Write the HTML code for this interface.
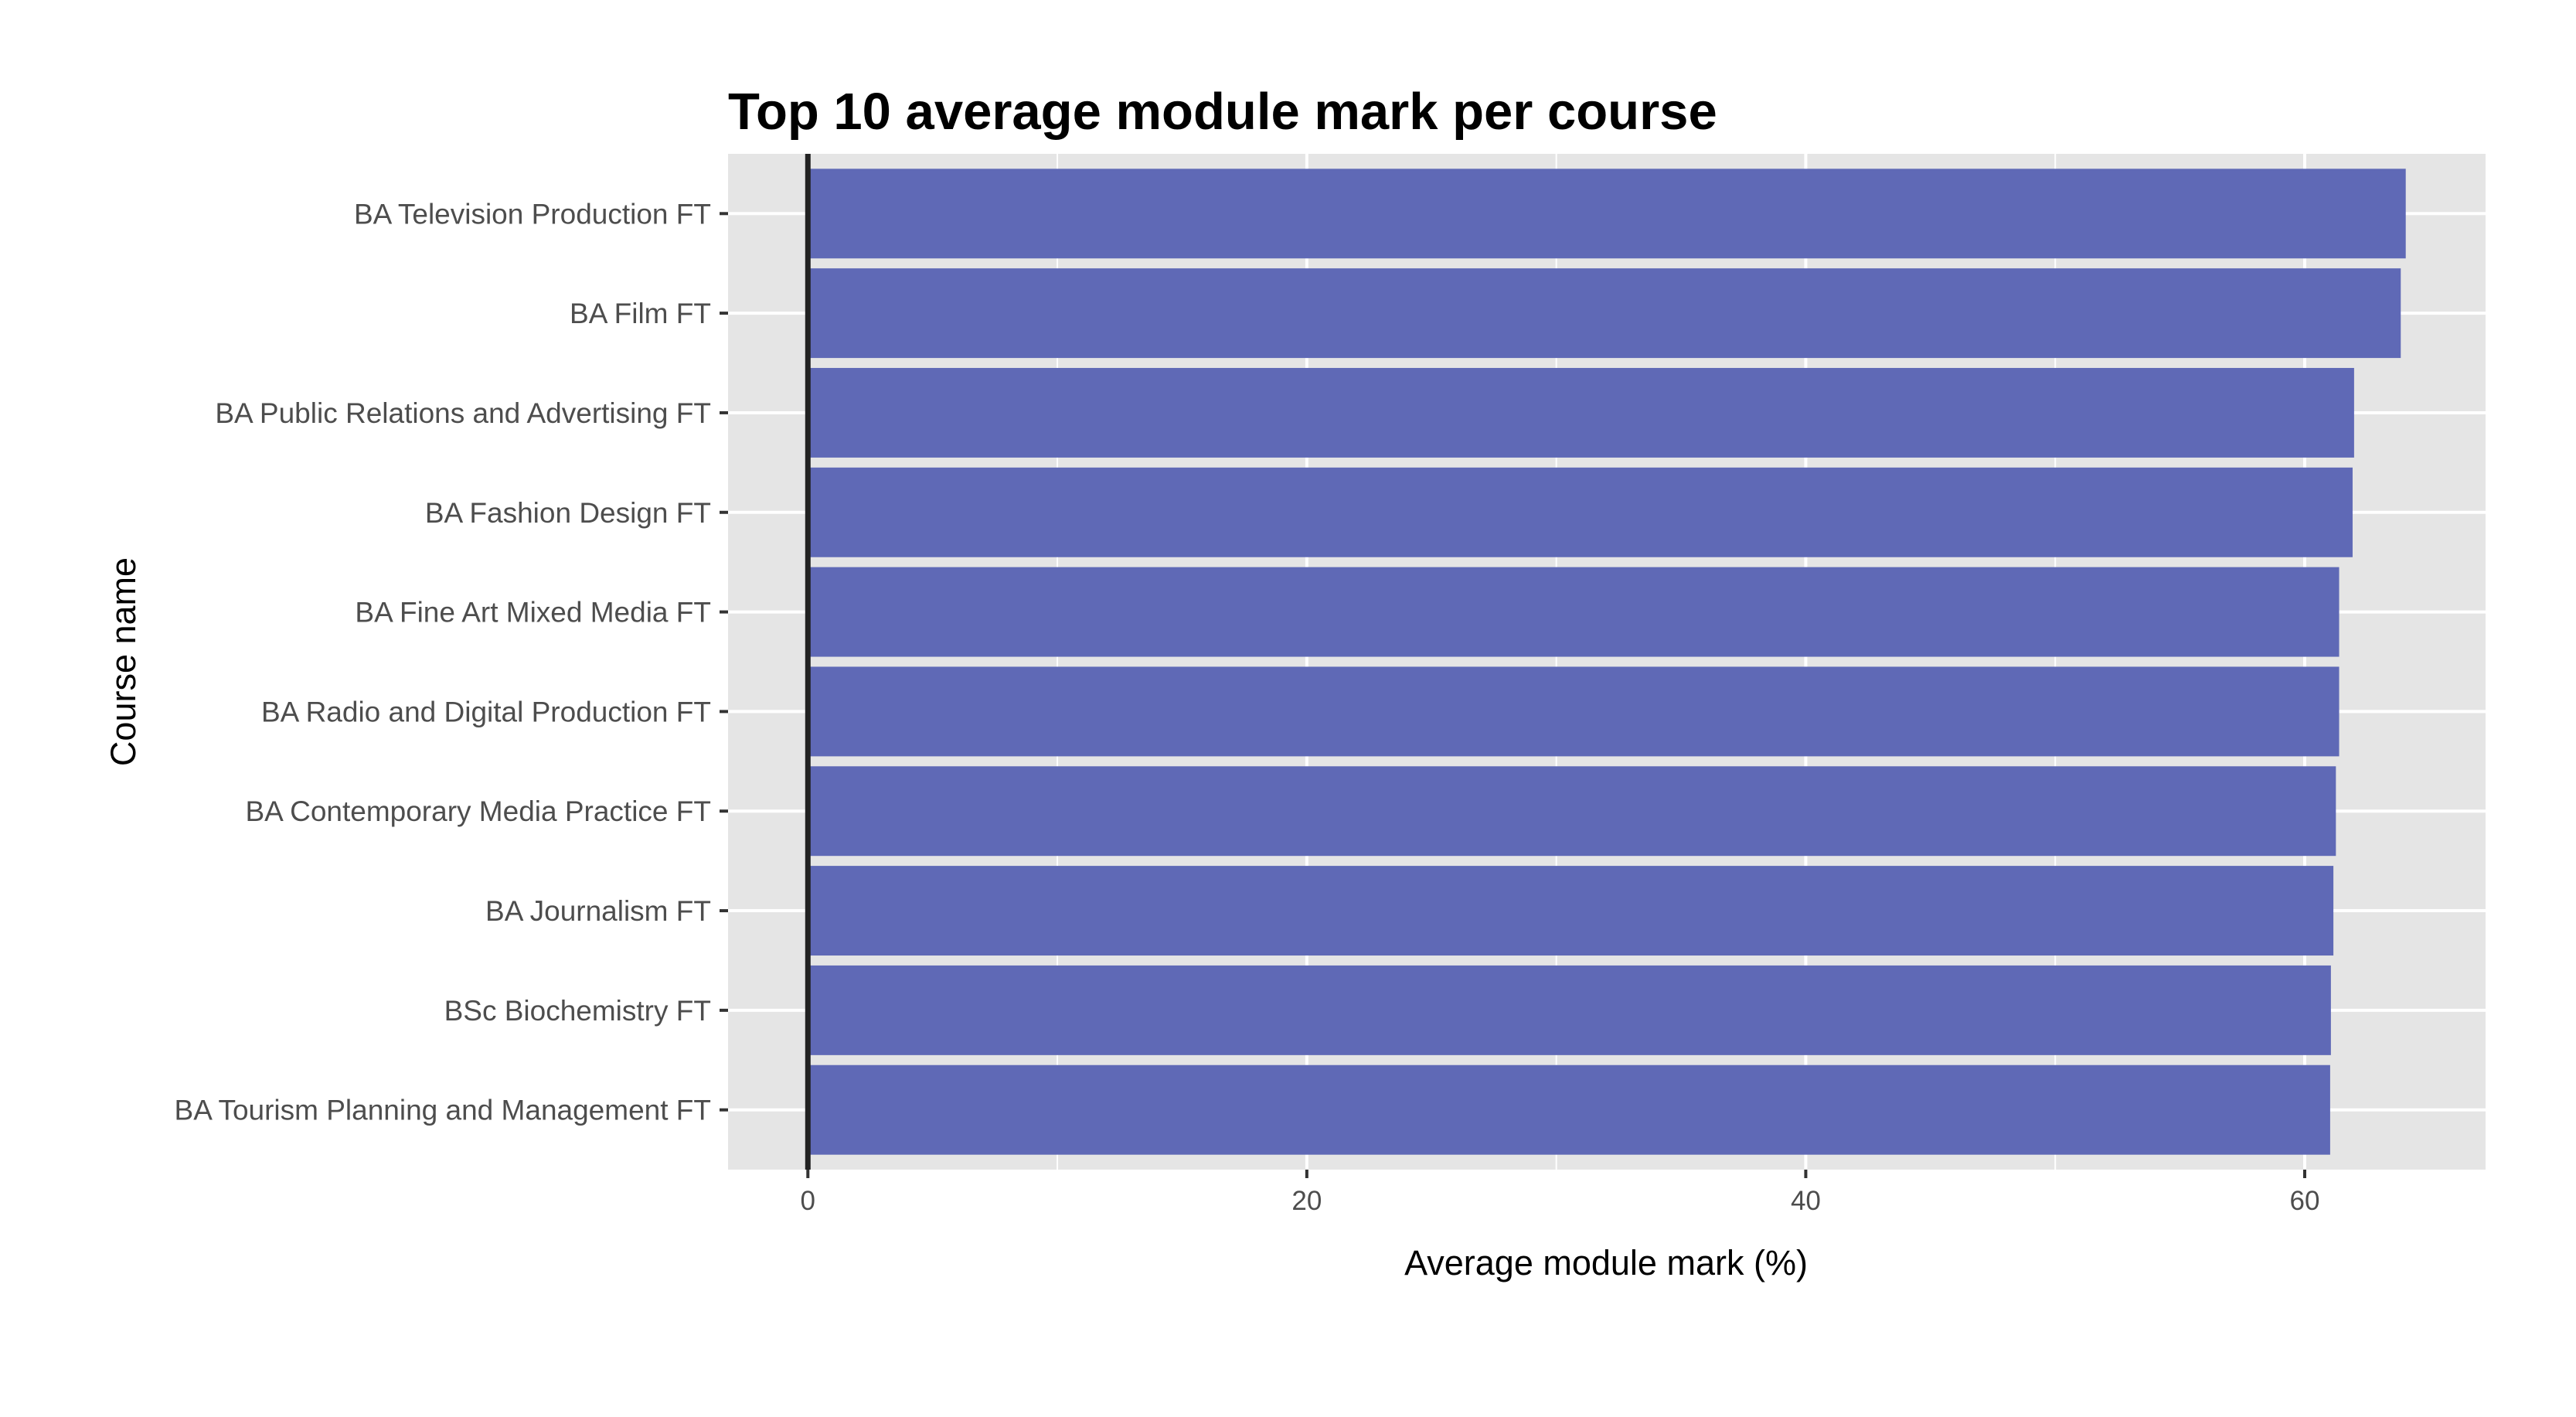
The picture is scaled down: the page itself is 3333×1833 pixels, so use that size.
<!DOCTYPE html>
<html><head><meta charset="utf-8"><style>
html,body{margin:0;padding:0;background:#fff;}
svg{display:block;font-family:"Liberation Sans",Arial,sans-serif;}
</style></head><body>
<svg id="chart" width="3333" height="1833" viewBox="0 0 3333 1833">
<rect x="0" y="0" width="3333" height="1833" fill="#fff"/>
<text x="942" y="167" font-size="67" font-weight="bold" fill="#000">Top 10 average module mark per course</text>
<rect x="942" y="199" width="2274" height="1314" fill="#e5e5e5"/>
<g id="grid"></g>
<g id="bars"></g>
<g id="axes"></g>
<text x="2078" y="1649" font-size="45" text-anchor="middle" fill="#000">Average module mark (%)</text>
<text transform="translate(175,856) rotate(-90)" font-size="45" text-anchor="middle" fill="#000">Course name</text>
</svg>
<script>
const categories = ["BA Television Production FT","BA Film FT","BA Public Relations and Advertising FT","BA Fashion Design FT","BA Fine Art Mixed Media FT","BA Radio and Digital Production FT","BA Contemporary Media Practice FT","BA Journalism FT","BSc Biochemistry FT","BA Tourism Planning and Management FT"];
const values = [64.05, 63.85, 61.98, 61.92, 61.38, 61.38, 61.25, 61.15, 61.05, 61.02];
const xTicks = [0, 20, 40, 60];
const xMinor = [10, 30, 50];

const NS = "http://www.w3.org/2000/svg";
const panel = {left: 942, right: 3216, top: 199, bottom: 1513};
const xMin = -3.2, xMax = 67.25;
function xScale(v){ return panel.left + (v - xMin) / (xMax - xMin) * (panel.right - panel.left); }
const band = (panel.bottom - panel.top) / (categories.length - 1 + 1.2);
function yCenter(i){ return panel.top + (0.6 + i) * band; }
function mk(tag, attrs, parent){ const e = document.createElementNS(NS, tag); for (const k in attrs) e.setAttribute(k, attrs[k]); parent.appendChild(e); return e; }

const grid = document.getElementById('grid');
const bars = document.getElementById('bars');
const axes = document.getElementById('axes');

xMinor.forEach(v => {
  const l = mk('line', {x1: xScale(v), x2: xScale(v), y1: panel.top, y2: panel.bottom, stroke: '#fff', 'stroke-width': 2}, grid);
  
  
});
xTicks.forEach(v => {
  const l = mk('line', {x1: xScale(v), x2: xScale(v), y1: panel.top, y2: panel.bottom, stroke: '#fff', 'stroke-width': 4}, grid);
  
  
  const t = mk('line', {x1: xScale(v), x2: xScale(v), y1: panel.bottom, y2: panel.bottom + 11, stroke: '#333', 'stroke-width': 4}, axes);
  
  
  const tx = mk('text', {x: xScale(v), y: 1565, 'font-size': 35, 'text-anchor': 'middle', fill: '#4d4d4d'}, axes);
  tx.textContent = String(v);
  
  
});
categories.forEach((c, i) => {
  const y = yCenter(i);
  const g = mk('line', {x1: panel.left, x2: panel.right, y1: y, y2: y, stroke: '#fff', 'stroke-width': 4}, grid);
  
  
  const h = band * 0.9;
  const r = mk('rect', {x: xScale(0), y: y - h / 2, width: xScale(values[i]) - xScale(0), height: h, fill: '#5f69b6'}, bars);
  
  
  const t = mk('line', {x1: panel.left - 11, x2: panel.left, y1: y, y2: y, stroke: '#333', 'stroke-width': 4}, axes);
  
  
  const tx = mk('text', {x: 920, y: y + 13, 'font-size': 37, 'text-anchor': 'end', fill: '#4d4d4d'}, axes);
  tx.textContent = c;
  
  
});
const z = mk('line', {x1: xScale(0), x2: xScale(0), y1: panel.top, y2: panel.bottom, stroke: '#222', 'stroke-width': 7}, axes);


</script>
</body></html>
